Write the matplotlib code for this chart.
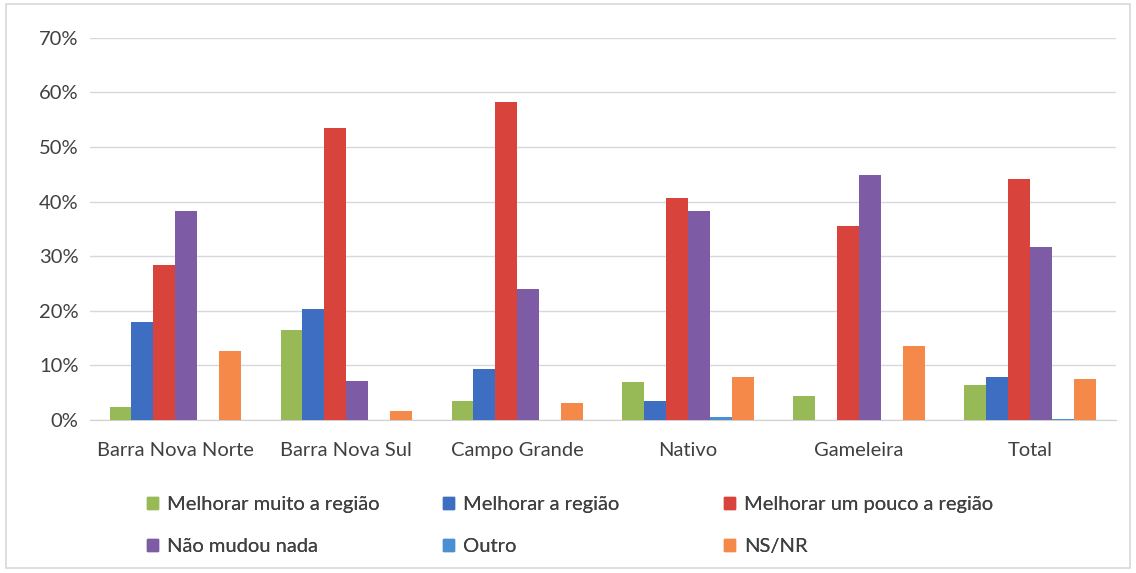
import numpy as np
import matplotlib.pyplot as plt
from matplotlib.patches import Rectangle, Patch
from matplotlib.ticker import PercentFormatter

# ===============================
# DATA
# ===============================
categories = ["Barra Nova Norte", "Barra Nova Sul", "Campo Grande",
              "Nativo", "Gameleira", "Total"]

series_names = ["Melhorar muito a região", "Melhorar a região",
                "Melhorar um pouco a região", "Não mudou nada",
                "Outro", "NS/NR"]

melhorar_muito = [2.4, 16.5, 3.4, 7.0, 4.4, 6.5]
melhorar = [18.0, 20.3, 9.3, 3.5, 0.0, 7.9]
melhorar_pouco = [28.3, 53.5, 58.2, 40.6, 35.5, 44.1]
nao_mudou = [38.3, 7.2, 24.0, 38.3, 44.9, 31.7]
outro = [0.0, 0.0, 0.0, 0.5, 0.0, 0.2]
ns_nr = [12.7, 1.6, 3.2, 7.8, 13.5, 7.5]

series = [melhorar_muito, melhorar, melhorar_pouco, nao_mudou, outro, ns_nr]
colors = ["#97B956", "#3E6EC2", "#D8443C", "#7D5BA5", "#4A8FD2", "#F5894A"]

# ===============================
# PLOT
# ===============================
plt.rcParams['font.family'] = ['Lato', 'DejaVu Sans']

fig = plt.figure(figsize=(11.36, 5.73), dpi=100)
ax = fig.add_axes([0.079, 0.267, 0.903, 0.667])

x = np.arange(len(categories))
w = 0.128
for i, (vals, col) in enumerate(zip(series, colors)):
    ax.bar(x + (i - 2.5) * w, vals, width=w, color=col, zorder=3)

ax.set_ylim(0, 70)
ax.set_xlim(-0.5, len(categories) - 0.5)
ax.set_yticks(np.arange(0, 71, 10))
ax.yaxis.set_major_formatter(PercentFormatter(decimals=0))
ax.set_xticks(x)
ax.set_xticklabels(categories)
ax.tick_params(axis='both', length=0, labelsize=14.5, labelcolor="#404040")
ax.tick_params(axis='x', pad=16)
ax.tick_params(axis='y', pad=8)
ax.grid(axis='y', color="#d9d6e0", linewidth=1, zorder=0)
for s in ["top", "right", "left"]:
    ax.spines[s].set_visible(False)
ax.spines["bottom"].set_color("#d0d0d0")

# legenda: 3 kolom manual
cols_idx = [[0, 3], [1, 4], [2, 5]]
xpos = [0.122, 0.383, 0.630]
for xp, idx in zip(xpos, cols_idx):
    handles = [Patch(color=colors[k], label=series_names[k]) for k in idx]
    leg = fig.legend(handles=handles, loc="upper left",
                     bbox_to_anchor=(xp, 0.148), frameon=False,
                     fontsize=14.5, handlelength=0.55, handleheight=0.55,
                     handletextpad=0.45, labelspacing=1.25,
                     borderaxespad=0)
    for t in leg.get_texts():
        t.set_color("#404040")
    fig.add_artist(leg)

# bingkai luar
fig.add_artist(Rectangle((0.005, 0.008), 0.99, 0.985, transform=fig.transFigure,
                         fill=False, edgecolor="#d8d8d8", linewidth=1.2))

fig.savefig("out.png", dpi=100)
